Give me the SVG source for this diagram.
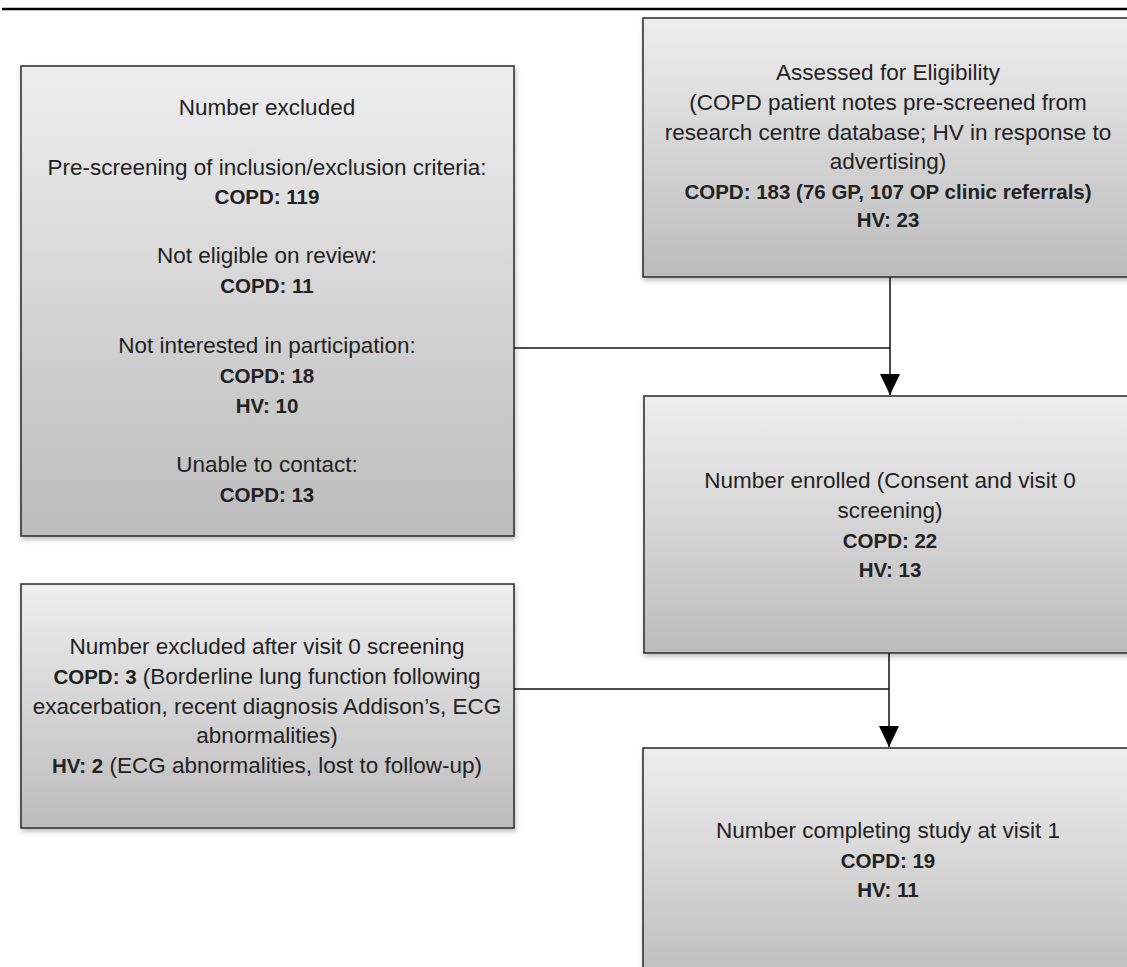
<svg xmlns="http://www.w3.org/2000/svg" width="1127" height="967" viewBox="0 0 1127 967">
<defs>
<linearGradient id="g" x1="0" y1="0" x2="0" y2="1">
<stop offset="0" stop-color="#eeeeee"/>
<stop offset="1" stop-color="#bcbcbc"/>
</linearGradient>
<filter id="sh" x="-5%" y="-5%" width="115%" height="115%">
<feDropShadow dx="1" dy="3" stdDeviation="2.5" flood-color="#000" flood-opacity="0.25"/>
</filter>
<marker id="ah" markerUnits="userSpaceOnUse" markerWidth="22" markerHeight="22" viewBox="0 0 22 22" refX="21" refY="11" orient="auto">
<path d="M0,1 L21,11 L0,21 Z" fill="#000"/>
</marker>
</defs>
<style>
.box{fill:url(#g);stroke:#333;stroke-width:1.6;filter:url(#sh)}
text{font-family:"Liberation Sans",Arial,sans-serif;font-size:22.5px;fill:#222;text-anchor:middle}
.b{font-weight:bold;font-size:20.5px}
tspan.b{font-size:20.5px}
.c{fill:none;stroke:#111;stroke-width:1.5}
</style>
<line x1="2" y1="9" x2="1127" y2="9" stroke="#000" stroke-width="2.5"/>
<g id="excluded">
<rect class="box" x="21" y="66" width="493" height="470"/>
<text x="267" y="115">Number excluded</text>
<text x="267" y="175">Pre-screening of inclusion/exclusion criteria:</text>
<text x="267" y="204" class="b">COPD: 119</text>
<text x="267" y="263">Not eligible on review:</text>
<text x="267" y="293" class="b">COPD: 11</text>
<text x="267" y="353">Not interested in participation:</text>
<text x="267" y="383" class="b">COPD: 18</text>
<text x="267" y="413" class="b">HV: 10</text>
<text x="267" y="472">Unable to contact:</text>
<text x="267" y="502" class="b">COPD: 13</text>
</g>
<g id="assessed">
<rect class="box" x="643" y="18" width="492" height="259"/>
<text x="888" y="80">Assessed for Eligibility</text>
<text x="888" y="110">(COPD patient notes pre-screened from</text>
<text x="888" y="140">research centre database; HV in response to</text>
<text x="888" y="169">advertising)</text>
<text x="888" y="199" class="b">COPD: 183 (76 GP, 107 OP clinic referrals)</text>
<text x="888" y="227" class="b">HV: 23</text>
</g>
<g id="enrolled">
<rect class="box" x="644" y="396" width="492" height="257"/>
<text x="890" y="488">Number enrolled (Consent and visit 0</text>
<text x="890" y="518">screening)</text>
<text x="890" y="548" class="b">COPD: 22</text>
<text x="890" y="577" class="b">HV: 13</text>
</g>
<g id="excluded2">
<rect class="box" x="21" y="584" width="493" height="244"/>
<text x="267" y="654">Number excluded after visit 0 screening</text>
<text x="267" y="684"><tspan class="b">COPD: 3</tspan> (Borderline lung function following</text>
<text x="267" y="714">exacerbation, recent diagnosis Addison’s, ECG</text>
<text x="267" y="743">abnormalities)</text>
<text x="267" y="773"><tspan class="b">HV: 2</tspan> (ECG abnormalities, lost to follow-up)</text>
</g>
<g id="completing">
<rect class="box" x="643" y="748" width="492" height="240"/>
<text x="888" y="838">Number completing study at visit 1</text>
<text x="888" y="868" class="b">COPD: 19</text>
<text x="888" y="897" class="b">HV: 11</text>
</g>
<g id="connectors">
<line class="c" x1="514" y1="348" x2="890" y2="348"/>
<line class="c" x1="890" y1="277" x2="890" y2="395" marker-end="url(#ah)"/>
<line class="c" x1="514" y1="689" x2="889" y2="689"/>
<line class="c" x1="889" y1="653" x2="889" y2="747" marker-end="url(#ah)"/>
</g>
</svg>
